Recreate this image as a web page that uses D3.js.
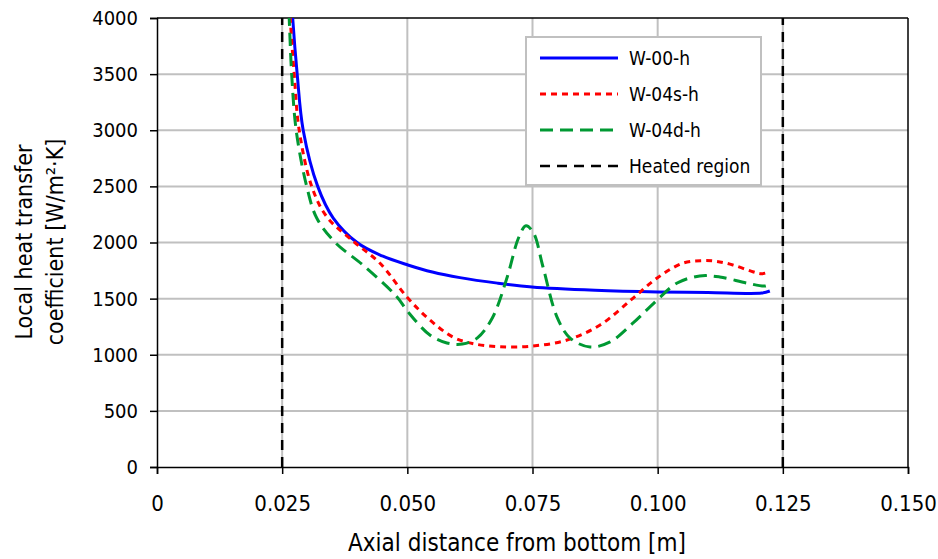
<!DOCTYPE html>
<html>
<head>
<meta charset="utf-8">
<script src="https://cdn.jsdelivr.net/npm/d3@7"></script>
<style>
  body { margin: 0; background: #fff; }
  svg text { font-family: "DejaVu Sans Condensed", "DejaVu Sans", sans-serif; fill: #000; }
</style>
</head>
<body>
<div id="container"></div>
<script>
let w = 938;
let h = 559;
let margin = {top: 18, right: 30, bottom: 92, left: 157};

// axial distance [m], heat transfer coefficient [W/m2K]
let w00x = [0.0266, 0.0271, 0.0280, 0.0292, 0.0321, 0.0352, 0.0401, 0.0450, 0.0501, 0.0550, 0.0605, 0.0680, 0.0749, 0.0875, 0.1000, 0.1100, 0.1208, 0.1224];
let w00y = [4400, 4000, 3500, 3000, 2500, 2218, 1995, 1880, 1800, 1737, 1687, 1638, 1604, 1575, 1560, 1555, 1550, 1568];

let w04sx = [0.0261, 0.0266, 0.0274, 0.0284, 0.0309, 0.0339, 0.0395, 0.0445, 0.0501, 0.0545, 0.0591, 0.0630, 0.0685, 0.0751, 0.0819, 0.0885, 0.0951, 0.0999, 0.1051, 0.1090, 0.1118, 0.1150, 0.1190, 0.1208, 0.1224];
let w04sy = [4400, 4000, 3500, 3000, 2500, 2230, 2000, 1817, 1505, 1310, 1158, 1100, 1072, 1078, 1131, 1265, 1505, 1684, 1817, 1838, 1832, 1800, 1740, 1722, 1740];

let w04dx = [0.0260, 0.0264, 0.0269, 0.0278, 0.0299, 0.0319, 0.0356, 0.0411, 0.0479, 0.0501, 0.0545, 0.0579, 0.0610, 0.0640, 0.0670, 0.0700, 0.0722, 0.0737, 0.0752, 0.0771, 0.0799, 0.0825, 0.0865, 0.0905, 0.0951, 0.0999, 0.1039, 0.1084, 0.1124, 0.1178, 0.1215, 0.1224];
let w04dy = [4400, 4000, 3500, 3000, 2500, 2218, 2000, 1800, 1517, 1384, 1176, 1105, 1095, 1150, 1330, 1700, 2040, 2150, 2085, 1782, 1336, 1149, 1069, 1114, 1283, 1488, 1639, 1702, 1693, 1639, 1612, 1630];

let heatedEdges = [0.025, 0.125];

let xTicks = [0, 0.025, 0.05, 0.075, 0.1, 0.125, 0.15];
let yTicks = [0, 500, 1000, 1500, 2000, 2500, 3000, 3500, 4000];

let seriesNames = ["W-00-h", "W-04s-h", "W-04d-h", "Heated region"];
let seriesColors = ["#0000ff", "#ff0000", "#009933", "#000000"];
let seriesDash = [null, "6,5", "13,7", "10,7"];

let series = [
  {name: seriesNames[0], xs: w00x, ys: w00y},
  {name: seriesNames[1], xs: w04sx, ys: w04sy},
  {name: seriesNames[2], xs: w04dx, ys: w04dy}
];

let viz = d3.select("#container")
  .append("svg")
  .attr("width", w)
  .attr("height", h);

let xScale = d3.scaleLinear().domain([0, 0.15]).range([margin.left, w - margin.right]);
let yScale = d3.scaleLinear().domain([0, 4000]).range([h - margin.bottom, margin.top]);

// grid
viz.append("g").selectAll("line").data(xTicks.slice(1, -1)).enter()
  .append("line")
  .attr("x1", d => xScale(d)).attr("x2", d => xScale(d))
  .attr("y1", yScale(0)).attr("y2", yScale(4000))
  .attr("stroke", "#c0c0c0").attr("stroke-width", 2);
viz.append("g").selectAll("line").data(yTicks.slice(1, -1)).enter()
  .append("line")
  .attr("x1", xScale(0)).attr("x2", xScale(0.15))
  .attr("y1", d => yScale(d)).attr("y2", d => yScale(d))
  .attr("stroke", "#c0c0c0").attr("stroke-width", 2);

// frame top / right
viz.append("line")
  .attr("x1", xScale(0)).attr("x2", xScale(0.15))
  .attr("y1", yScale(4000)).attr("y2", yScale(4000))
  .attr("stroke", "#000").attr("stroke-width", 1.5);
viz.append("line")
  .attr("x1", xScale(0.15)).attr("x2", xScale(0.15))
  .attr("y1", yScale(0)).attr("y2", yScale(4000))
  .attr("stroke", "#000").attr("stroke-width", 1.5);

// axes
let xAxis = viz.append("g")
  .attr("transform", `translate(0,${yScale(0)})`)
  .call(d3.axisBottom(xScale).tickValues(xTicks).tickSize(7).tickPadding(21)
    .tickFormat(d => d === 0 ? "0" : d3.format(".3f")(d)));
let yAxis = viz.append("g")
  .attr("transform", `translate(${xScale(0)},0)`)
  .call(d3.axisLeft(yScale).tickValues(yTicks).tickSize(7).tickPadding(12)
    .tickFormat(d3.format("d")));

[xAxis, yAxis].forEach(a => {
  a.attr("font-family", null);
  a.select(".domain").attr("stroke", "#000").attr("stroke-width", 1.5);
  a.selectAll(".tick line").attr("stroke", "#000").attr("stroke-width", 1.5);
});
xAxis.selectAll("text").attr("font-size", 22);
yAxis.selectAll("text").attr("font-size", 20);

// axis titles
viz.append("text")
  .attr("x", 517)
  .attr("y", 551)
  .attr("text-anchor", "middle")
  .attr("font-size", 24)
  .text("Axial distance from bottom [m]");

let yTitle = viz.append("text")
  .attr("transform", "translate(32,242) rotate(-90)")
  .attr("text-anchor", "middle")
  .attr("font-size", 23);
yTitle.append("tspan").attr("x", 0).attr("dy", 0).text("Local heat transfer");
yTitle.append("tspan").attr("x", 0).attr("dy", 31).text("coefficient [W/m²·K]");

// clip
viz.append("clipPath").attr("id", "plotclip")
  .append("rect")
  .attr("x", xScale(0)).attr("y", yScale(4000))
  .attr("width", xScale(0.15) - xScale(0))
  .attr("height", yScale(0) - yScale(4000));

// heated region
viz.append("g").selectAll("line").data(heatedEdges).enter()
  .append("line")
  .attr("x1", d => xScale(d)).attr("x2", d => xScale(d))
  .attr("y1", yScale(0)).attr("y2", yScale(4000))
  .attr("stroke", seriesColors[3])
  .attr("stroke-width", 2.5)
  .attr("stroke-dasharray", seriesDash[3]);

let lineMaker = d3.line()
  .x(d => xScale(d[0]))
  .y(d => yScale(d[1]))
  .curve(d3.curveCatmullRom.alpha(0.5));

viz.append("g").attr("clip-path", "url(#plotclip)")
  .selectAll("path").data(series).enter()
  .append("path")
  .attr("d", s => lineMaker(s.xs.map((x, i) => [x, s.ys[i]])))
  .attr("fill", "none")
  .attr("stroke", (s, i) => seriesColors[i])
  .attr("stroke-width", 3)
  .attr("stroke-dasharray", (s, i) => seriesDash[i]);

// legend
let legend = viz.append("g");
legend.append("rect")
  .attr("x", 526).attr("y", 37)
  .attr("width", 235).attr("height", 148)
  .attr("fill", "#fff")
  .attr("stroke", "#c0c0c0")
  .attr("stroke-width", 2);

let rows = legend.selectAll(".row").data(seriesNames).enter()
  .append("g")
  .attr("class", "row")
  .attr("transform", (d, i) => `translate(0,${58 + i * 36})`);
rows.append("line")
  .attr("x1", 540).attr("x2", 618)
  .attr("stroke", (d, i) => seriesColors[i])
  .attr("stroke-width", (d, i) => i === 3 ? 2.5 : 3)
  .attr("stroke-dasharray", (d, i) => seriesDash[i]);
rows.append("text")
  .attr("x", 629)
  .attr("dy", "0.36em")
  .attr("font-size", 19)
  .text(d => d);
</script>
</body>
</html>
